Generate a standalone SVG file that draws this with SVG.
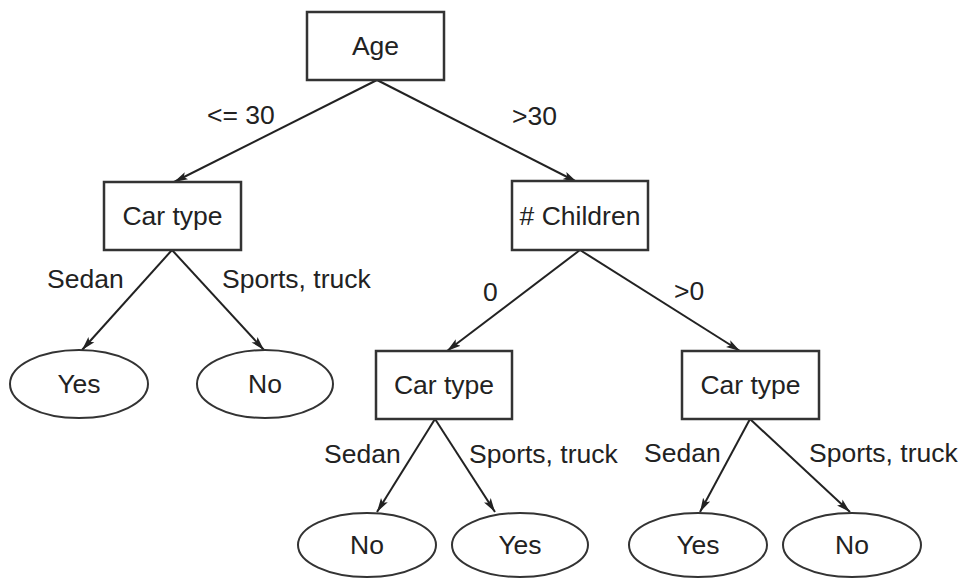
<svg xmlns="http://www.w3.org/2000/svg" width="963" height="579" viewBox="0 0 963 579">
<style>
.box{fill:#fff;stroke:#333;stroke-width:2.5}
.leaf{fill:#fff;stroke:#333;stroke-width:2}
.t{font-family:"Liberation Sans",Arial,sans-serif;font-size:26.5px;fill:#222;text-anchor:middle}
.lbl{font-family:"Liberation Sans",Arial,sans-serif;font-size:26.5px;fill:#222}
.edge{stroke:#222;stroke-width:2;fill:none;marker-end:url(#ah)}
</style>
<defs>
<marker id="ah" markerUnits="userSpaceOnUse" markerWidth="16" markerHeight="10" refX="14" refY="5" orient="auto">
<path d="M0,1 L14,5 L0,9 L3,5 Z" fill="#222"/>
</marker>
</defs>
<rect width="963" height="579" fill="#fff"/>
<g id="connectors">
<line class="edge" x1="377" y1="80" x2="174" y2="182"/>
<line class="edge" x1="377" y1="80" x2="577" y2="182"/>
<line class="edge" x1="172" y1="250" x2="82" y2="350"/>
<line class="edge" x1="172" y1="250" x2="264" y2="350"/>
<line class="edge" x1="580" y1="250" x2="447" y2="351"/>
<line class="edge" x1="580" y1="250" x2="740" y2="351"/>
<line class="edge" x1="435" y1="419" x2="377" y2="512"/>
<line class="edge" x1="435" y1="419" x2="495" y2="512"/>
<line class="edge" x1="750" y1="419" x2="700" y2="512"/>
<line class="edge" x1="750" y1="419" x2="850" y2="512"/>
</g>
<g id="labels">
<text class="lbl" x="207" y="124">&lt;= 30</text>
<text class="lbl" x="512" y="125">&gt;30</text>
<text class="lbl" x="47" y="288">Sedan</text>
<text class="lbl" x="222" y="288">Sports, truck</text>
<text class="lbl" x="483" y="301">0</text>
<text class="lbl" x="674" y="300">&gt;0</text>
<text class="lbl" x="324" y="463">Sedan</text>
<text class="lbl" x="469" y="463">Sports, truck</text>
<text class="lbl" x="644" y="462">Sedan</text>
<text class="lbl" x="809" y="462">Sports, truck</text>
</g>
<g id="age"><rect class="box" x="307" y="12" width="137" height="68"/><text class="t" x="375.5" y="55">Age</text></g>
<g id="cartype1"><rect class="box" x="104" y="182" width="137" height="68"/><text class="t" x="172.5" y="225">Car type</text></g>
<g id="children"><rect class="box" x="512" y="181" width="136" height="69"/><text class="t" x="580" y="225"># Children</text></g>
<g id="yes1"><ellipse class="leaf" cx="79" cy="384" rx="69" ry="34"/><text class="t" x="79" y="393">Yes</text></g>
<g id="no1"><ellipse class="leaf" cx="265" cy="384" rx="68" ry="34"/><text class="t" x="265" y="393">No</text></g>
<g id="cartype2"><rect class="box" x="376" y="351" width="136" height="68"/><text class="t" x="444" y="394">Car type</text></g>
<g id="cartype3"><rect class="box" x="682" y="351" width="137" height="68"/><text class="t" x="750.5" y="394">Car type</text></g>
<g id="no2"><ellipse class="leaf" cx="367" cy="545" rx="69" ry="32"/><text class="t" x="367" y="554">No</text></g>
<g id="yes2"><ellipse class="leaf" cx="520" cy="545" rx="68" ry="32"/><text class="t" x="520" y="554">Yes</text></g>
<g id="yes3"><ellipse class="leaf" cx="698" cy="545" rx="69" ry="32"/><text class="t" x="698" y="554">Yes</text></g>
<g id="no3"><ellipse class="leaf" cx="852" cy="545" rx="69" ry="32"/><text class="t" x="852" y="554">No</text></g>
</svg>
